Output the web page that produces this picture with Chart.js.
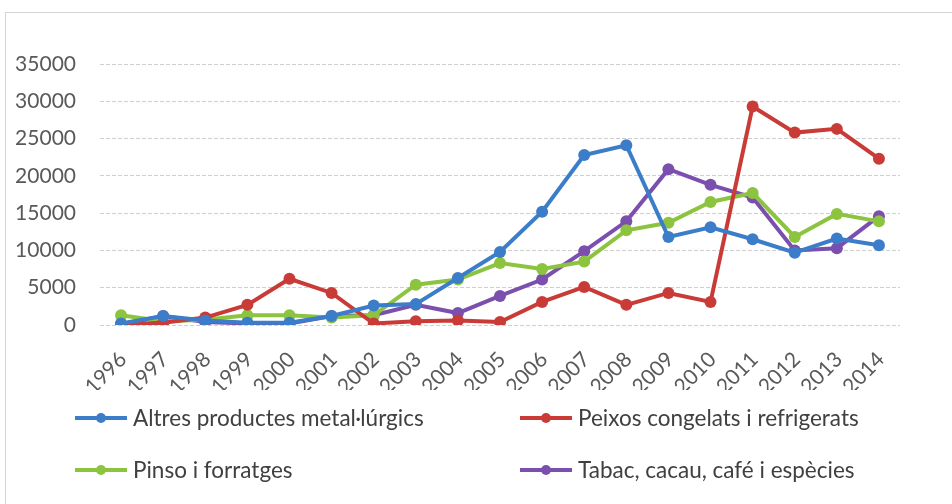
<!DOCTYPE html>
<html>
<head>
<meta charset="utf-8">
<script src="https://cdn.jsdelivr.net/npm/chart.js@4/dist/chart.umd.min.js"></script>
<style>
  html, body { margin: 0; padding: 0; background: #ffffff; }
  #wrap { position: relative; width: 952px; height: 504px; overflow: hidden; }
  #frame { position: absolute; left: 5px; top: 12px; width: 960px; height: 500px;
           border-top: 1px solid #d4d4d4; border-left: 1px solid #d4d4d4; }
  #chart { position: absolute; left: 0; top: 0; }
  #legend { position: absolute; left: 0; top: 0; width: 952px; height: 504px; pointer-events: none;
            font-family: Lato, "Liberation Sans", sans-serif; font-size: 22.5px; color: #404040; }
  .item { position: absolute; display: flex; align-items: center; white-space: nowrap; }
  .swatch { position: relative; width: 52px; height: 4px; margin-right: 6px; }
  .swatch i { position: absolute; left: 21px; top: -3px; width: 10px; height: 10px; border-radius: 50%; }
</style>
</head>
<body>
<div id="wrap">
  <div id="frame"></div>
  <canvas id="chart" width="952" height="504"></canvas>
  <div id="legend"></div>
</div>
<script>
const years = ['1996','1997','1998','1999','2000','2001','2002','2003','2004','2005',
               '2006','2007','2008','2009','2010','2011','2012','2013','2014'];

const seriesNames = [
  'Altres productes metal·lúrgics',
  'Peixos congelats i refrigerats',
  'Pinso i forratges',
  'Tabac, cacau, café i espècies'
];

const metallurgics = [200, 1200, 600, 300, 300, 1200, 2600, 2800, 6300, 9800,
                      15200, 22800, 24100, 11800, 13100, 11500, 9700, 11600, 10700];
const peixos       = [100, 300, 1000, 2700, 6200, 4300, 200, 500, 600, 400,
                      3100, 5100, 2700, 4300, 3100, 29300, 25800, 26300, 22300];
const pinso        = [1300, 500, 700, 1300, 1300, 1000, 1300, 5400, 6100, 8300,
                      7500, 8500, 12700, 13700, 16500, 17700, 11800, 14900, 13900];
const tabac        = [100, 1200, 400, 200, 200, 1200, 1300, 2700, 1600, 3900,
                      6100, 9900, 13900, 20900, 18800, 17100, 10000, 10300, 14600];

const yTicks = [0, 5000, 10000, 15000, 20000, 25000, 30000, 35000];

const colors = ['#3b7dc8', '#c93b37', '#8cc43f', '#7b4fae'];
const values = [metallurgics, peixos, pinso, tabac];

const datasets = values.map((v, i) => ({
  label: seriesNames[i],
  data: v,
  borderColor: colors[i],
  backgroundColor: colors[i],
  borderWidth: 4,
  pointRadius: 6,
  pointHoverRadius: 6,
  pointBorderWidth: 0,
  tension: 0
}));

const tickFont = { family: 'Lato, "Liberation Sans", sans-serif', size: 21 };

const chart = new Chart(document.getElementById('chart'), {
  type: 'line',
  data: { labels: years, datasets },
  options: {
    responsive: false,
    animation: false,
    layout: { padding: { left: 0, top: 64, right: 52, bottom: 114 } },
    plugins: { legend: { display: false }, tooltip: { enabled: false } },
    scales: {
      x: {
        offset: true,
        grid: { display: false, drawTicks: false },
        border: { display: false },
        ticks: { color: '#595959', font: tickFont, minRotation: 45, maxRotation: 45,
                 autoSkip: false, padding: 22, labelOffset: 2 },
        afterFit: s => { s.height = 65; }
      },
      y: {
        min: 0, max: 35000,
        afterBuildTicks: s => { s.ticks = yTicks.map(v => ({ value: v })); },
        grid: { color: '#cfcfcf', lineWidth: 1, drawTicks: false },
        border: { display: false, dash: [4, 2] },
        ticks: { color: '#595959', font: tickFont, padding: 24,
                 callback: v => String(v) },
        afterFit: s => { s.width = 100; }
      }
    }
  }
});

// two-column legend built from the chart's datasets
const legend = document.getElementById('legend');
const spots = [[75, 418], [520, 418], [75, 470], [520, 470]];
chart.data.datasets.forEach((ds, i) => {
  const it = document.createElement('div');
  it.className = 'item';
  it.style.left = spots[i][0] + 'px';
  it.style.top = (spots[i][1] - 14) + 'px';
  const sw = document.createElement('span');
  sw.className = 'swatch';
  sw.style.background = ds.borderColor;
  const dot = document.createElement('i');
  dot.style.background = ds.borderColor;
  sw.appendChild(dot);
  const tx = document.createElement('span');
  tx.textContent = ds.label;
  it.appendChild(sw);
  it.appendChild(tx);
  legend.appendChild(it);
});
</script>
</body>
</html>
